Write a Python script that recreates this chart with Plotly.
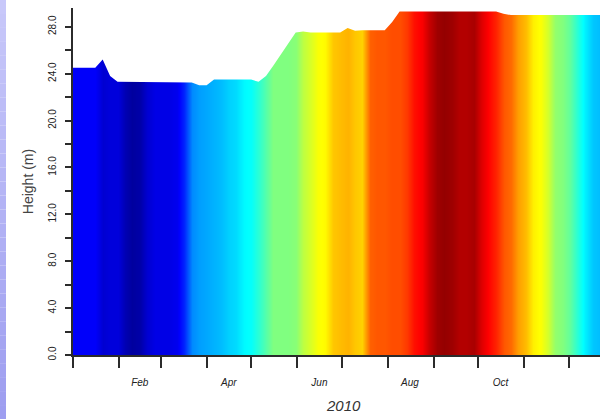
import pandas as pd
import plotly.graph_objects as go

# Five-day sampling through 2010
dates = pd.date_range("2010-01-01", periods=72, freq="5D")

# Surface height (m) at each sample
height = [
    24.5, 24.5, 24.5, 24.5, 25.2, 23.8, 23.3, 23.3, 23.3, 23.3,
    23.3, 23.3, 23.3, 23.3, 23.3, 23.25, 23.25, 23.0, 23.0, 23.5,
    23.5, 23.5, 23.5, 23.5, 23.5, 23.3, 23.8, 24.7, 25.6, 26.6,
    27.5, 27.6, 27.5, 27.5, 27.5, 27.5, 27.5, 27.9, 27.65, 27.7,
    27.7, 27.7, 27.7, 28.4, 29.3, 29.3, 29.3, 29.3, 29.3, 29.3,
    29.3, 29.3, 29.3, 29.3, 29.3, 29.3, 29.3, 29.3, 29.1, 29.0,
    29.0, 29.0, 29.0, 29.0, 29.0, 29.0, 29.0, 29.0, 29.0, 29.0,
    29.0, 29.0,
]

# Temperature (deg C) at each sample, mapped onto the colour scale
temperature = [
    3.6, 3.6, 3.6, 3.6, 2.4, 2.7, 2.7, 1.5, 0.9, 1.2,
    2.4, 3.0, 3.0, 3.0, 3.3, 4.8, 7.8, 8.4, 8.7, 9.0,
    9.3, 9.9, 10.2, 11.1, 11.4, 12.6, 13.8, 15.0, 15.0, 15.0,
    15.3, 16.8, 17.7, 18.6, 18.9, 20.4, 20.7, 21.0, 20.4, 20.1,
    23.4, 23.7, 23.7, 24.0, 24.0, 24.6, 25.8, 26.4, 27.9, 29.1,
    29.4, 29.1, 28.5, 28.5, 28.8, 27.3, 26.1, 25.2, 23.7, 23.1,
    21.6, 20.7, 19.2, 18.6, 17.4, 15.6, 15.0, 14.1, 12.3, 10.8,
    9.6, 9.3,
]

y_ticks = [0, 2, 4, 6, 8, 10, 12, 14, 16, 18, 20, 22, 24, 26, 28]
month_labels = ["Feb", "Apr", "Jun", "Aug", "Oct"]
month_label_dates = ["2010-02-15", "2010-04-16", "2010-06-16", "2010-08-16", "2010-10-16"]

Y_TOP = 29.6

jet = [
    [0.0, "rgb(0,0,128)"],
    [0.125, "rgb(0,0,255)"],
    [0.375, "rgb(0,255,255)"],
    [0.625, "rgb(255,255,0)"],
    [0.875, "rgb(255,0,0)"],
    [1.0, "rgb(128,0,0)"],
]

fig = go.Figure()

# Colour band for the whole column, by date (two identical rows so it can be smoothed)
fig.add_trace(go.Heatmap(
    x=dates, y=[-5, 40], z=[temperature, temperature],
    colorscale=jet, zmin=0, zmax=30, showscale=False,
    zsmooth="best", hoverinfo="skip",
))

# Blank out everything above the surface
fig.add_trace(go.Scatter(
    x=dates, y=height, mode="lines", line=dict(width=0),
    showlegend=False, hoverinfo="skip",
))
fig.add_trace(go.Scatter(
    x=dates, y=[40] * len(dates), mode="lines", line=dict(width=0),
    fill="tonexty", fillcolor="white", showlegend=False, hoverinfo="skip",
))

plot_w = 527
plot_h = 347
# Lavender frame strip along the left edge
n_bands = 30
for i in range(n_bands):
    t = i / (n_bands - 1)
    r = int(200 - 42 * t)
    b = int(250 - 10 * t)
    fig.add_shape(
        type="rect", xref="paper", yref="paper",
        x0=-73 / plot_w, x1=-67 / plot_w,
        y0=1 + 8 / plot_h - (i + 1) * (419 / plot_h) / n_bands,
        y1=1 + 8 / plot_h - i * (419 / plot_h) / n_bands,
        line=dict(width=0), fillcolor=f"rgb({r},{r},{b})", layer="above",
    )

axis_col = "#2b2b2b"
fig.update_layout(
    width=600, height=419,
    margin=dict(l=73, r=0, t=8, b=64),
    paper_bgcolor="white", plot_bgcolor="white",
    font=dict(family="Arial, Liberation Sans, sans-serif", color="#333"),
    showlegend=False,
    xaxis=dict(
        range=["2010-01-01", "2010-12-22"],
        tickmode="array", tickvals=month_label_dates, ticktext=month_labels,
        ticks="", ticklabelstandoff=17,
        tickfont=dict(size=10, style="italic", color="#222"),
        showline=True, linecolor=axis_col, linewidth=1.5,
        showgrid=False, zeroline=False,
        minor=dict(
            tickmode="array",
            tickvals=pd.date_range("2010-01-01", periods=12, freq="MS"),
            ticks="outside", ticklen=11, tickwidth=1.5, tickcolor=axis_col,
            showgrid=False,
        ),
    ),
    yaxis=dict(
        range=[0, Y_TOP],
        tickmode="array", tickvals=y_ticks,
        ticktext=[f"{v:.1f}" if v % 4 == 0 else "" for v in y_ticks],
        ticks="outside", ticklen=6, tickwidth=1.5, tickcolor=axis_col,
        tickangle=-90, tickfont=dict(size=10, color="#222"),
        ticklabelstandoff=5,
        showline=True, linecolor=axis_col, linewidth=1.5,
        showgrid=False, zeroline=False,
        title=dict(text="Height (m)", font=dict(size=14, color="#444"), standoff=10),
    ),
    annotations=[dict(
        text="2010", x="2010-07-02", xref="x",
        y=-(405 - 355) / plot_h, yref="paper", yanchor="middle",
        showarrow=False, font=dict(size=15, style="italic", color="#333"),
    )],
)

fig.write_html("out.html")
